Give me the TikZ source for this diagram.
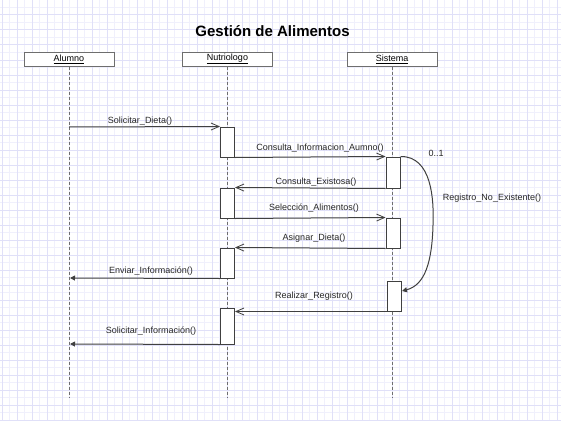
\documentclass[tikz,border=0pt]{standalone}
\usepackage{fontspec}
\setmainfont{Liberation Sans}
\usetikzlibrary{arrows.meta}
\definecolor{gridmajor}{RGB}{224,224,248}
\definecolor{gridminor}{RGB}{240,240,252}
\definecolor{linegray}{RGB}{64,64,64}
\definecolor{lifegray}{RGB}{110,110,110}
\tikzset{
  head/.style = {draw = lifegray, fill = white, line width = 1pt, minimum width = 90pt, minimum height = 14pt, inner sep = 0pt, font = \fontsize{9}{10}\selectfont},
  act/.style = {draw = linegray, fill = white, line width = 1pt, minimum width = 14pt, inner sep = 0pt},
  lifeline/.style = {draw = lifegray, line width = 1pt, dash pattern = on 3pt off 2pt},
  call/.style = {draw = linegray, line width = 1pt, -{Straight Barb[length = 8pt, width = 7pt, line width = 0.8pt]}},
  reply/.style = {draw = linegray, line width = 1pt, -{Triangle[length = 5pt, width = 5pt]}},
  msg/.style = {text = black!85, font = \fontsize{9}{10}\selectfont, inner sep = 0pt}
}

\begin{document}
\begin{tikzpicture}[x = 1pt, y = -1pt]
    \useasboundingbox (0, 0) rectangle (561, 420);
    \fill[white] (0, 0) rectangle (561, 420);
    \foreach \x in {9.5, 24.5, ..., 560} \draw[gridminor, line width = 1pt] (\x, 0) -- (\x, 420);
    \foreach \y in {7.5, 22.5, ..., 420} \draw[gridminor, line width = 1pt] (0, \y) -- (561, \y);
    \foreach \x in {2, 17, ..., 560} \draw[gridmajor, line width = 1pt] (\x, 0) -- (\x, 420);
    \foreach \y in {0, 15, ..., 420} \draw[gridmajor, line width = 1pt] (0, \y) -- (561, \y);

    \node (Title) at (272.5, 31) {\fontsize{15}{17}\selectfont\bfseries Gestión de Alimentos};

    \node[head] (Alumno) at (69, 59) {\underline{Alumno}};
    \node[head] (Nutriologo) at (227.5, 59) {\underline{Nutriologo}};
    \node[head] (Sistema) at (392, 59) {\underline{Sistema}};
    \coordinate (Alumno End) at (69, 397);
    \coordinate (Nutriologo End) at (227.5, 397);
    \coordinate (Sistema End) at (392, 397);
    \draw[lifeline] (Alumno) -- (Alumno End);
    \draw[lifeline] (Nutriologo) -- (Nutriologo End);
    \draw[lifeline] (Sistema) -- (Sistema End);

    \node[act, minimum height = 30pt] (Nutriologo Act 1) at (227.5, 142) {};
    \node[act, minimum height = 30pt] (Nutriologo Act 2) at (227.5, 203) {};
    \node[act, minimum height = 30pt] (Nutriologo Act 3) at (227.5, 263) {};
    \node[act, minimum height = 36pt] (Nutriologo Act 4) at (227.5, 326) {};
    \node[act, minimum height = 31pt] (Sistema Act 1) at (393, 172.5) {};
    \node[act, minimum height = 30pt] (Sistema Act 2) at (393, 233) {};
    \node[act, minimum height = 30pt] (Sistema Act 3) at (394.5, 296) {};

    \coordinate (Alumno Dieta) at (69, 127);
    \coordinate (Alumno Enviar) at (70, 278);
    \coordinate (Alumno Solicitar) at (70, 344);

    \draw[call] (Alumno Dieta) -- (Nutriologo Act 1.north west);
    \draw[call] (Nutriologo Act 1.south east) -- (Sistema Act 1.north west);
    \draw[call] (Sistema Act 1.south west) -- (Nutriologo Act 2.north east);
    \draw[call] (Nutriologo Act 2.south east) -- (Sistema Act 2.north west);
    \draw[call] (Sistema Act 2.south west) -- (Nutriologo Act 3.north east);
    \draw[reply] (Nutriologo Act 3.south west) -- (Alumno Enviar);
    \draw[call] (Sistema Act 3.south west) -- (Nutriologo Act 4.east |- Sistema Act 3.south west);
    \draw[reply] (Nutriologo Act 4.south west) -- (Alumno Solicitar);
    \draw[reply] (Sistema Act 1.north east) .. controls (432, 156) and (434, 200) .. (433, 225)
        .. controls (432, 262) and (425, 285) .. ([yshift = 5pt]Sistema Act 3.east);

    \node[msg] at (140, 121) {Solicitar\_Dieta()};
    \node[msg] at (320, 148) {Consulta\_Informacion\_Aumno()};
    \node[msg] at (316, 182) {Consulta\_Existosa()};
    \node[msg] at (314, 208) {Selección\_Alimentos()};
    \node[msg] at (314, 238) {Asignar\_Dieta()};
    \node[msg] at (151, 271) {Enviar\_Información()};
    \node[msg] at (314, 296) {Realizar\_Registro()};
    \node[msg] at (151, 331) {Solicitar\_Información()};
    \node[msg] at (436, 153) {0..1};
    \node[msg] at (492, 198) {Registro\_No\_Existente()};
\end{tikzpicture}
\end{document}
